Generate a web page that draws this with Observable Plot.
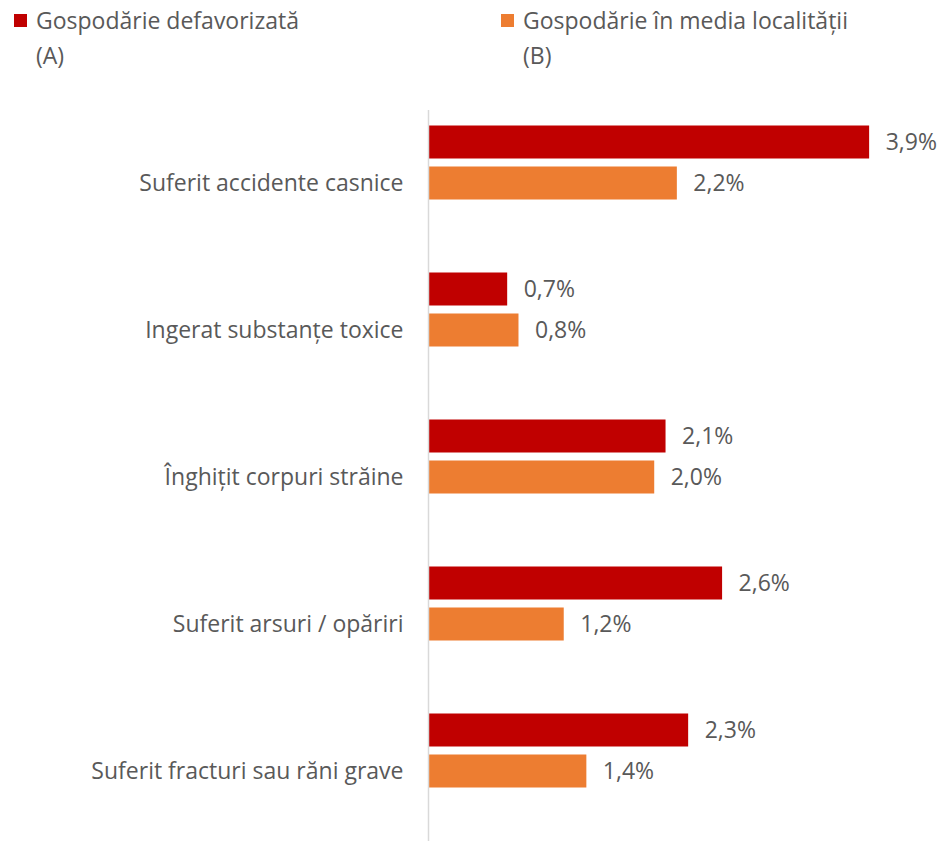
<!DOCTYPE html>
<html><head><meta charset="utf-8">
<script src="https://cdn.jsdelivr.net/npm/d3@7"></script>
<script src="https://cdn.jsdelivr.net/npm/@observablehq/plot@0.6"></script>
<style>
body{margin:0;overflow:hidden;background:#fff;font-family:"Open Sans",sans-serif;color:#595959}
#legend{position:relative;height:80px}
.item{position:absolute;top:3px;display:flex;font-size:23px;line-height:35px}
.sw{width:13px;height:13px;margin-top:11px;margin-right:9px;flex:none}
</style></head><body>
<div id="legend"></div>
<div id="chart"></div>
<script>
const categories = ["Suferit accidente casnice","Ingerat substanțe toxice","Înghițit corpuri străine","Suferit arsuri / opăriri","Suferit fracturi sau răni grave"];
const seriesKeys = ["A","B"];
const seriesLines = [["Gospodărie defavorizată","(A)"],["Gospodărie în media localității","(B)"]];
const valuesA = [3.9,0.7,2.1,2.6,2.3];
const valuesB = [2.2,0.8,2.0,1.2,1.4];
const colors = ["#C00000","#ED7D31"];
const legendLeft = [14,501];

const rows = [];
categories.forEach((c,i)=>{
  rows.push({category:c, series:"A", value:valuesA[i]});
  rows.push({category:c, series:"B", value:valuesB[i]});
});

const legend = document.getElementById("legend");
seriesKeys.forEach((k,i)=>{
  const it = document.createElement("div");
  it.className="item"; it.style.left = legendLeft[i]+"px";
  it.innerHTML = `<div class="sw" style="background:${colors[i]}"></div><div>${seriesLines[i][0]}<br>${seriesLines[i][1]}</div>`;
  legend.appendChild(it);
});

const fmt = v => v.toFixed(1).replace(".",",")+"%";

const chart = Plot.plot({
  width:945, height:765,
  marginLeft:428, marginRight:8, marginTop:29.5, marginBottom:0,
  style:{fontSize:"23px", fontFamily:"Open Sans, sans-serif", color:"#595959", background:"#fff"},
  facet:{data:rows, y:"category"},
  fy:{domain:categories, padding:0, label:null, tickSize:0, tickPadding:25},
  x:{domain:[0,4.5], axis:null},
  y:{domain:["A","B","C"], axis:null, paddingInner:0.195, paddingOuter:0.39},
  color:{domain:seriesKeys, range:colors},
  marks:[
    Plot.barX(rows,{y:"series", x:"value", fill:"series"}),
    Plot.text(rows,{y:"series", x:"value", text:d=>fmt(d.value), textAnchor:"start", dx:16, fill:"#595959"}),
    Plot.ruleX([0],{stroke:"#d9d9d9", strokeWidth:1.5})
  ]
});
document.getElementById("chart").appendChild(chart);
</script>
</body></html>
